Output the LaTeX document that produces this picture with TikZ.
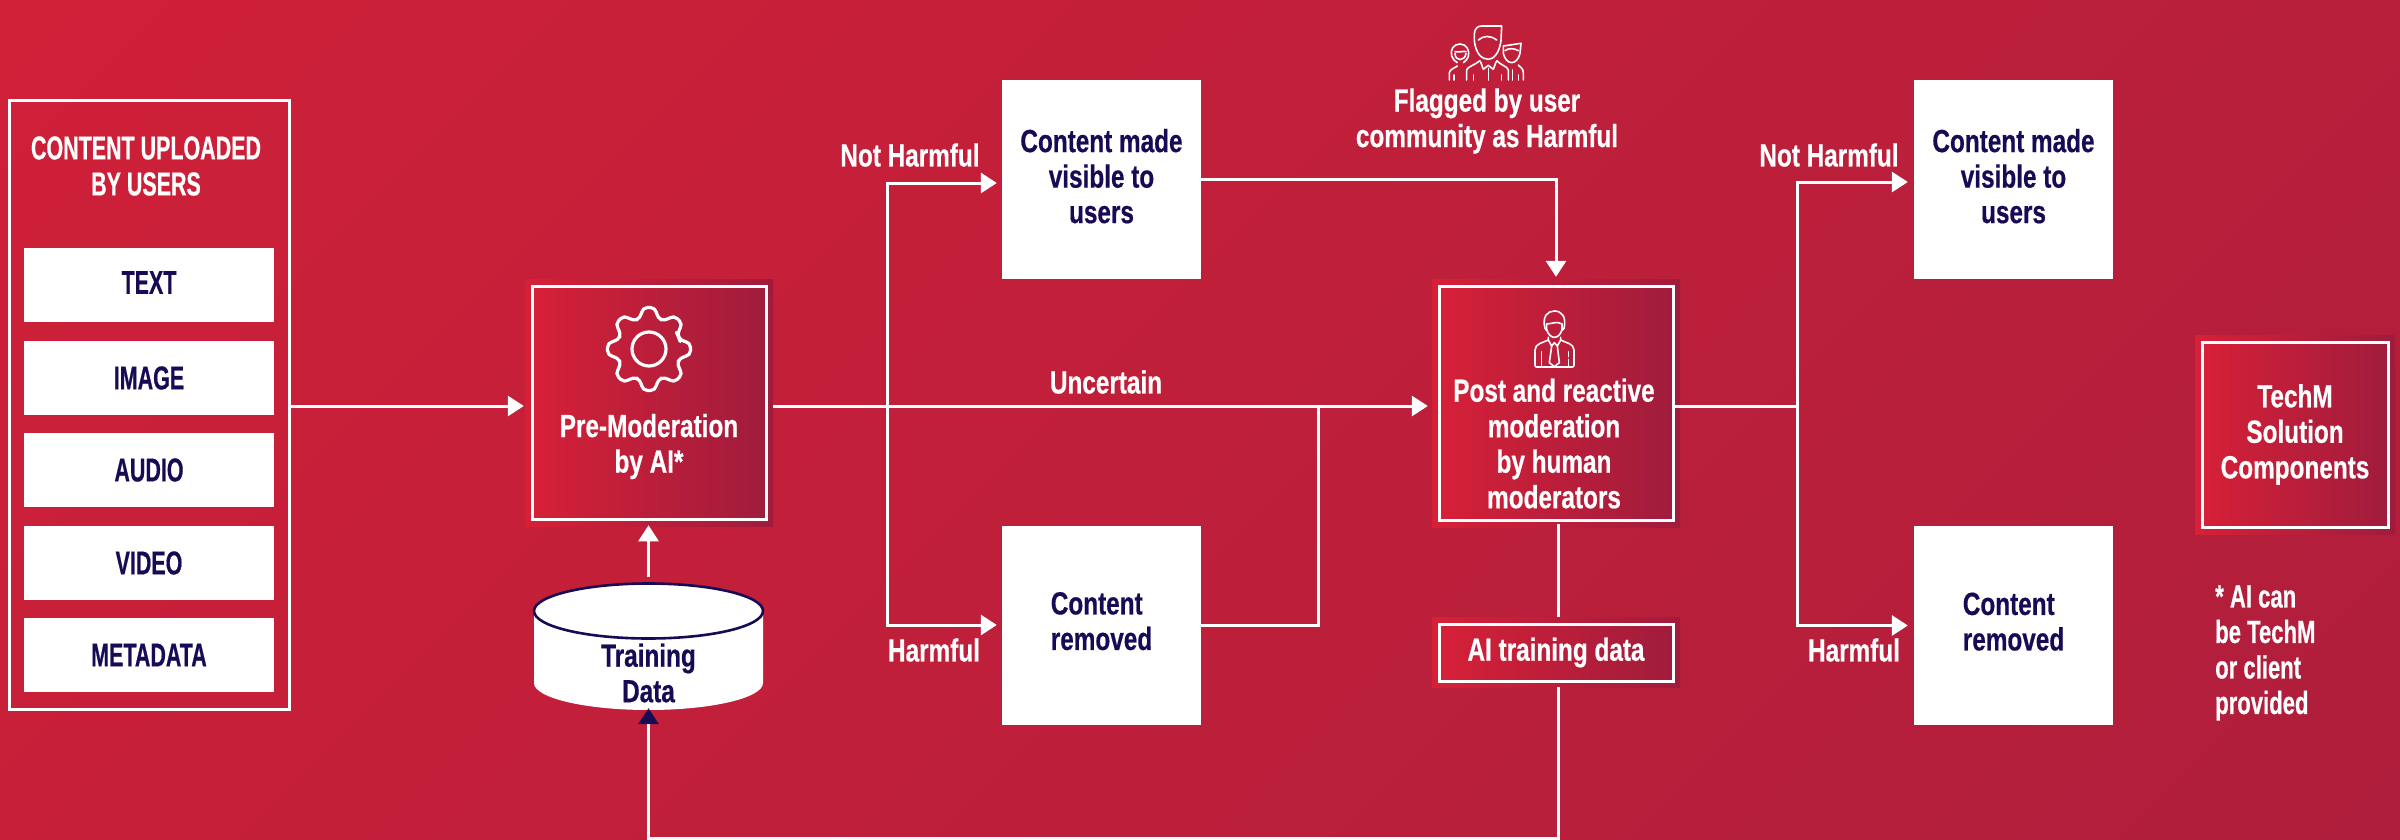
\documentclass[tikz,border=0pt]{standalone}
\usepackage{fontspec}
\usetikzlibrary{arrows.meta}
\newfontfamily\labf[FakeStretch=0.76,BoldFeatures={FakeBold=0.5}]{Liberation Sans}
\newfontfamily\capf[FakeStretch=0.65,BoldFeatures={FakeBold=0.5}]{Liberation Sans}
\newfontfamily\notef[FakeStretch=0.69,BoldFeatures={FakeBold=0.5}]{Liberation Sans}
\definecolor{bgA}{RGB}{208,32,56}
\definecolor{bgB}{RGB}{174,30,60}
\definecolor{gA}{RGB}{214,32,56}
\definecolor{gB}{RGB}{160,28,60}
\definecolor{navy}{RGB}{24,10,84}
\tikzset{
  lab/.style={font=\labf\bfseries\fontsize{32}{35.5}\selectfont,align=center,inner sep=0pt},
  caps/.style={font=\capf\bfseries\fontsize{33}{36}\selectfont,align=center,inner sep=0pt},
  wt/.style={text=white},
  nv/.style={text=navy},
  whitebox/.style={fill=white,draw=none,inner sep=0pt},
  halo/.style={left color=gA,right color=gB,draw=none,inner sep=0pt},
  core/.style={left color=gA,right color=gB,draw=white,line width=3pt,inner sep=0pt},
  flow/.style={draw=white,line width=3pt,-{Triangle[length=16pt,width=20pt]}},
  plainline/.style={draw=white,line width=3pt},
  ink/.style={draw=white,line width=1.6pt,line cap=round,line join=round},
}
\begin{document}
\begin{tikzpicture}[x=1pt,y=-1pt]
\useasboundingbox (0,0) rectangle (2400,840);
\begin{scope}
  \clip (0,0) rectangle (2400,840);
  \shade[top color=bgA,bottom color=bgB,shading angle=45] (-2,-782) rectangle (2402,1622);
\end{scope}

% left panel
\node[draw=white,line width=3pt,minimum width=280pt,minimum height=608pt,inner sep=0pt] (outer) at (149,405) {};
\node[caps,wt] (title) at (146,166) {CONTENT UPLOADED\\BY USERS};
\node[whitebox,caps,nv,minimum width=250pt,minimum height=74.5pt,text depth=5pt] (tx) at (149,285) {TEXT};
\foreach \nm/\yy/\tx/\dy in {im/378/IMAGE/0,au/470/AUDIO/-1,vi/563/VIDEO/0,me/655/METADATA/-3}{
  \node[whitebox,caps,nv,minimum width=250pt,minimum height=74.5pt] (\nm) at (149,\yy) {\raisebox{\dy pt}{\tx}};
}

% pre-moderation
\node[halo,minimum width=248pt,minimum height=247pt] (preo) at (649,402.5) {};
\node[core,minimum width=234pt,minimum height=233.5pt] (pre) at (649,403) {};
\begin{scope}[shift={(649,349)}]
  \draw[draw=white,line width=3.2pt,line join=round,rounded corners=5pt] (-22.5:32)
    \foreach \a in {0,45,...,315}{ -- (\a-15:32) -- (\a-9:42) -- (\a+9:42) -- (\a+15:32) } -- cycle;
  \draw[draw=white,line width=3.2pt] (0,0) circle (17);
\end{scope}
\node[lab,wt] (pretext) at (649,446.5) {Pre-Moderation\\by AI*};

% training data
\node[minimum width=229pt,minimum height=127pt,inner sep=0pt] (db) at (648.5,646.5) {};
\fill[white] (534,611) -- (534,683) arc[start angle=180,end angle=0,x radius=114.5,y radius=27] -- (763,611) -- cycle;
\draw[draw=navy,line width=2.6pt,fill=white] (648.5,611) ellipse[x radius=114.5,y radius=27.5];
\node[lab,nv] (dbtext) at (648.5,673) {Training\\Data};

% middle boxes
\node[whitebox,lab,nv,minimum width=199pt,minimum height=199pt,text depth=7pt] (vis1) at (1101.5,179.5) {Content made\\visible to\\users};
\node[whitebox,lab,nv,align=left,minimum width=199pt,minimum height=199pt,text depth=8pt] (rem1) at (1101.5,625) {Content\\removed};
\node[whitebox,lab,nv,minimum width=199pt,minimum height=199pt,text depth=7pt] (vis2) at (2013.5,179.5) {Content made\\visible to\\users};
\node[whitebox,lab,nv,align=left,minimum width=199pt,minimum height=199pt,text depth=8pt] (rem2) at (2013.5,625.5) {Content\\removed};

% post moderation
\node[halo,minimum width=248pt,minimum height=248pt] (posto) at (1556,403) {};
\node[core,minimum width=234pt,minimum height=234pt] (post) at (1556,403) {};
\node[lab,wt] (posttext) at (1554,443.5) {Post and reactive\\moderation\\by human\\moderators};
\node[halo,minimum width=248pt,minimum height=70pt] (aio) at (1556,652) {};
\node[core,lab,wt,minimum width=234pt,minimum height=57pt] (ai) at (1556,652.5) {AI training data};

% legend
\node[halo,minimum width=200pt,minimum height=199pt] (techo) at (2295,434.5) {};
\node[core,lab,wt,minimum width=186pt,minimum height=185pt] (tech) at (2295,434.5) {TechM\\Solution\\Components};
\node[lab,wt,align=left,anchor=west,font=\notef\bfseries\fontsize{32}{35.5}\selectfont] (note) at (2215,653) {* AI can\\be TechM\\or client\\provided};

% free labels
\node[lab,wt] (flag) at (1487,121) {Flagged by user\\community as Harmful};
\node[lab,wt] (nh1) at (910,155) {Not Harmful};
\node[lab,wt] (h1) at (934,650) {Harmful};
\node[lab,wt] (unc) at (1106,382) {Uncertain};
\node[lab,wt] (nh2) at (1829,155) {Not Harmful};
\node[lab,wt] (h2) at (1854,650) {Harmful};

% junctions
\coordinate (mid) at (1318.5,406);
\coordinate (br1) at (887,406);
\coordinate (nh1c) at (887,183);
\coordinate (br2) at (1797,406);
\coordinate (nh2c) at (1797,182);
\coordinate (fb) at (1558,838);

% connectors
\draw[flow,shorten >=1pt] (outer.east |- mid) -- (preo.west |- mid);
\draw[flow,shorten >=4pt] (preo.east |- mid) -- (posto.west |- mid);
\draw[flow,shorten >=5pt] (br1) -- (nh1c) -- (vis1.west |- nh1c);
\draw[flow,shorten >=5pt] (br1) |- (rem1.west);
\draw[plainline] (rem1.east) -| (mid);
\draw[flow,shorten >=2pt] (vis1.east) -| (posto.north);
\draw[plainline] (post.east |- mid) -- (br2);
\draw[flow,shorten >=6pt] (br2) -- (nh2c) -- (vis2.west |- nh2c);
\draw[flow,shorten >=6pt] (br2) |- (rem2.west);
\draw[flow,shorten >=4pt,shorten <=6pt] (db.north) -- (pre.south -| db.north);
\draw[plainline,shorten <=-3pt] (posto.south -| fb) -- (aio.north -| fb);
\draw[draw=white,line width=3pt,-{Triangle[length=16pt,width=20pt,color=navy,fill=navy]},shorten >=-2pt] (aio.south -| fb) -- (fb) -| (db.south);

% people icon
\begin{scope}[shift={(1440,20)},x=0.3333pt,y=-0.3333pt]
  \draw[ink] (103,62) -- (103,42) .. controls (104,26) and (112,18) .. (125,18) -- (185,18) -- (183,62) .. controls (178,100) and (160,118) .. (145,118) .. controls (125,118) and (107,100) .. (103,62);
  \draw[ink] (115,60) .. controls (130,46) and (152,46) .. (170,60);
  \draw[ink] (80,180) -- (80,150) .. controls (82,140) and (105,135) .. (120,122);
  \draw[ink] (170,122) .. controls (182,135) and (203,140) .. (205,150) -- (205,180);
  \draw[ink] (122,126) -- (130,148) -- (145,136) -- (160,148) -- (168,126);
  \draw[ink] (100,165) -- (100,180) (185,165) -- (185,180) (145,145) -- (145,180);
  \draw[ink] (60,72) .. controls (40,72) and (30,90) .. (35,108) .. controls (38,118) and (46,125) .. (52,128);
  \draw[ink] (60,72) .. controls (80,72) and (90,92) .. (85,110) .. controls (82,118) and (76,124) .. (70,128);
  \draw[ink] (45,95) .. controls (60,98) and (70,92) .. (78,95);
  \draw[ink] (45,100) .. controls (45,125) and (75,125) .. (78,100);
  \draw[ink] (28,180) -- (28,158) .. controls (30,148) and (42,145) .. (52,138);
  \draw[ink] (42,165) -- (42,180);
  \draw[ink] (190,100) -- (190,78) -- (243,70) -- (240,100) .. controls (236,118) and (225,128) .. (215,128) .. controls (203,128) and (193,115) .. (190,100);
  \draw[ink] (195,92) .. controls (205,84) and (222,84) .. (235,92);
  \draw[ink] (235,135) .. controls (240,142) and (250,145) .. (250,158) -- (250,180);
  \draw[ink] (218,150) -- (218,180) (235,165) -- (235,180);
\end{scope}

% moderator icon
\begin{scope}[shift={(1520,300)},x=0.3333pt,y=-0.3333pt]
  \draw[ink] (75,85) .. controls (66,50) and (82,33) .. (103,33) .. controls (125,33) and (140,50) .. (132,85);
  \draw[ink] (80,72) .. controls (95,72) and (110,62) .. (126,72);
  \draw[ink] (80,72) -- (80,88) .. controls (84,105) and (95,112) .. (103,112) .. controls (112,112) and (122,105) .. (126,88) -- (126,72);
  \draw[ink] (75,85) -- (80,92) (132,85) -- (126,92);
  \draw[ink] (85,112) -- (85,120) .. controls (70,128) and (45,130) .. (45,150) -- (45,195) .. controls (45,200) and (47,201) .. (50,201) -- (157,201) .. controls (160,201) and (162,200) .. (162,195) -- (162,150) .. controls (162,130) and (135,128) .. (122,120) -- (122,112);
  \draw[ink] (85,120) -- (95,138) -- (103,128) -- (112,138) -- (122,120);
  \draw[ink] (95,138) -- (88,188) -- (103,200) -- (118,188) -- (112,138);
  \draw[ink] (65,200) -- (65,155) (145,200) -- (145,178) (145,170) -- (145,155);
\end{scope}
\end{tikzpicture}
\end{document}
